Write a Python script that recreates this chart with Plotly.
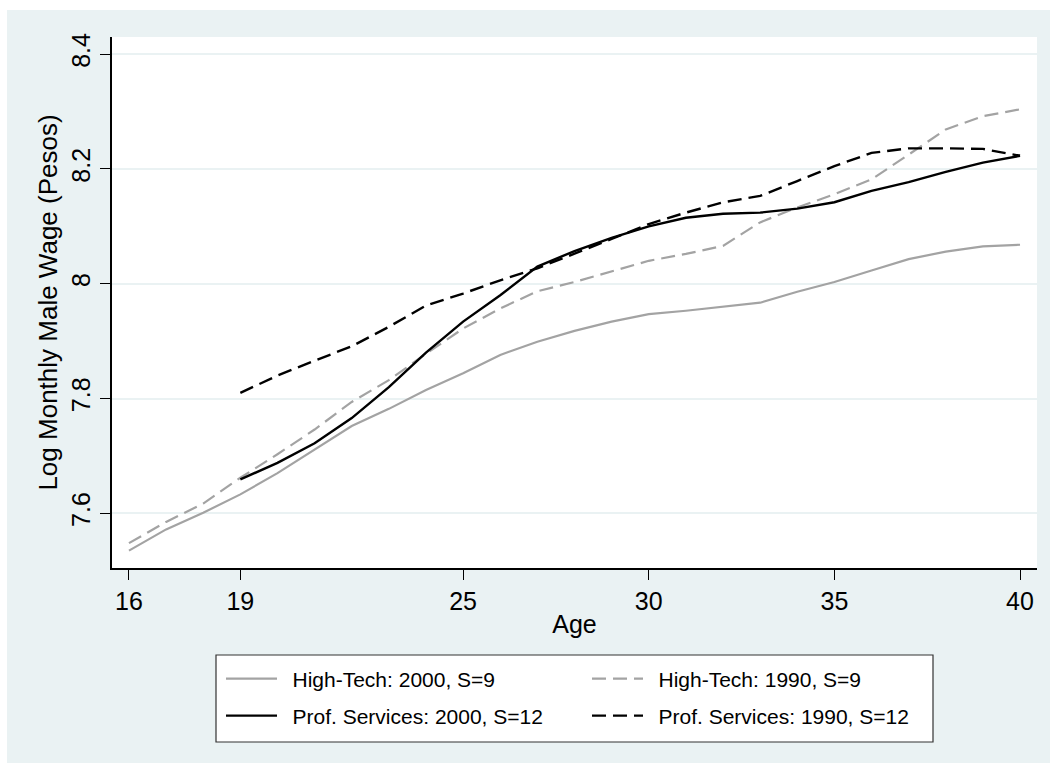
import plotly.graph_objects as go

# Age grids
ages_ht = list(range(16, 41))
ages_ps = list(range(19, 41))

# Log monthly male wage by age
ht_2000 = [7.535, 7.572, 7.601, 7.633, 7.670, 7.711, 7.752, 7.782, 7.815, 7.844,
           7.876, 7.899, 7.918, 7.934, 7.947, 7.953, 7.960, 7.967, 7.986, 8.003,
           8.023, 8.043, 8.056, 8.065, 8.068]
ht_1990 = [7.548, 7.585, 7.617, 7.662, 7.703, 7.746, 7.794, 7.832, 7.878, 7.922,
           7.957, 7.987, 8.003, 8.021, 8.040, 8.052, 8.066, 8.107, 8.133, 8.156,
           8.182, 8.225, 8.269, 8.292, 8.304]
ps_2000 = [7.659, 7.688, 7.722, 7.766, 7.820, 7.880, 7.934, 7.980, 8.030, 8.057,
           8.080, 8.100, 8.115, 8.122, 8.124, 8.131, 8.142, 8.162, 8.177, 8.195,
           8.211, 8.223]
ps_1990 = [7.810, 7.840, 7.866, 7.891, 7.925, 7.962, 7.983, 8.006, 8.027, 8.052,
           8.078, 8.104, 8.124, 8.142, 8.153, 8.179, 8.205, 8.228, 8.236, 8.236,
           8.235, 8.223]

series_names = ["High-Tech: 2000, S=9", "High-Tech: 1990, S=9",
                "Prof. Services: 2000, S=12", "Prof. Services: 1990, S=12"]

x_ticks = [16, 19, 25, 30, 35, 40]
y_ticks = [7.6, 7.8, 8.0, 8.2, 8.4]
y_tick_text = ["7.6", "7.8", "8", "8.2", "8.4"]

FONT = "Liberation Sans, Arial, Helvetica, sans-serif"
BG = "#EAF2F3"
GRAY = "#A3A3A3"

W, H = 1050, 769
ML, MR, MT, MB = 112, 13, 37, 201
PW, PH = W - ML - MR, H - MT - MB


def fx(px):
    return (px - ML) / PW


def fy(py):
    return (H - MB - py) / PH


# extra gap between a legend key and its label
KEY_GAP = "\u2002"

fig = go.Figure()
fig.add_trace(go.Scatter(x=ages_ht, y=ht_2000, mode="lines", name=KEY_GAP + series_names[0],
                         line=dict(color=GRAY, width=2.2), legend="legend"))
fig.add_trace(go.Scatter(x=ages_ht, y=ht_1990, mode="lines", name=KEY_GAP + series_names[1],
                         line=dict(color=GRAY, width=2.2, dash="14px,7px"), legend="legend2"))
fig.add_trace(go.Scatter(x=ages_ps, y=ps_2000, mode="lines", name=KEY_GAP + series_names[2],
                         line=dict(color="black", width=2.4), legend="legend3"))
fig.add_trace(go.Scatter(x=ages_ps, y=ps_1990, mode="lines", name=KEY_GAP + series_names[3],
                         line=dict(color="black", width=2.4, dash="14px,7px"), legend="legend4"))

leg_common = dict(bgcolor="rgba(0,0,0,0)", borderwidth=0, itemwidth=51,
                  font=dict(family=FONT, size=21, color="black"),
                  xanchor="left", yanchor="middle", orientation="h")
row1, row2 = 679, 716
col1, col2 = 221, 587

fig.update_layout(
    width=W, height=H,
    margin=dict(l=ML, r=MR, t=MT, b=MB),
    paper_bgcolor="white",
    plot_bgcolor="white",
    font=dict(family=FONT, size=25, color="black"),
    showlegend=True,
    legend=dict(x=fx(col1), y=fy(row1), **leg_common),
    legend2=dict(x=fx(col2), y=fy(row1), **leg_common),
    legend3=dict(x=fx(col1), y=fy(row2), **leg_common),
    legend4=dict(x=fx(col2), y=fy(row2), **leg_common),
    xaxis=dict(
        range=[15.543, 40.457], tickvals=x_ticks,
        ticks="outside", ticklen=10, tickwidth=1, tickcolor="black",
        showline=True, linecolor="black", linewidth=1.5,
        showgrid=False, zeroline=False,
        tickfont=dict(family=FONT, size=25),
        title=dict(text="Age", font=dict(family=FONT, size=25), standoff=2),
    ),
    yaxis=dict(
        range=[7.5047, 8.430], tickvals=y_ticks, ticktext=y_tick_text,
        tickangle=-90,
        ticks="outside", ticklen=10, tickwidth=1, tickcolor="black",
        showline=True, linecolor="black", linewidth=1.5,
        showgrid=True, gridcolor=BG, gridwidth=2, zeroline=False,
        tickfont=dict(family=FONT, size=25),
        title=dict(text="Log Monthly Male Wage (Pesos)", font=dict(family=FONT, size=26),
                   standoff=2),
    ),
    shapes=[
        # graph region background
        dict(type="rect", xref="paper", yref="paper", layer="below",
             x0=fx(7), x1=fx(W), y0=fy(763), y1=fy(10),
             fillcolor=BG, line=dict(width=0)),
        # plot region
        dict(type="rect", xref="paper", yref="paper", layer="below",
             x0=0, x1=1, y0=0, y1=1, fillcolor="white", line=dict(width=0)),
        # legend frame
        dict(type="rect", xref="paper", yref="paper", layer="below",
             x0=fx(216), x1=fx(933), y0=fy(742), y1=fy(655),
             fillcolor="white", line=dict(color="#333333", width=1.2)),
    ],
)

fig.write_html("out.html")
